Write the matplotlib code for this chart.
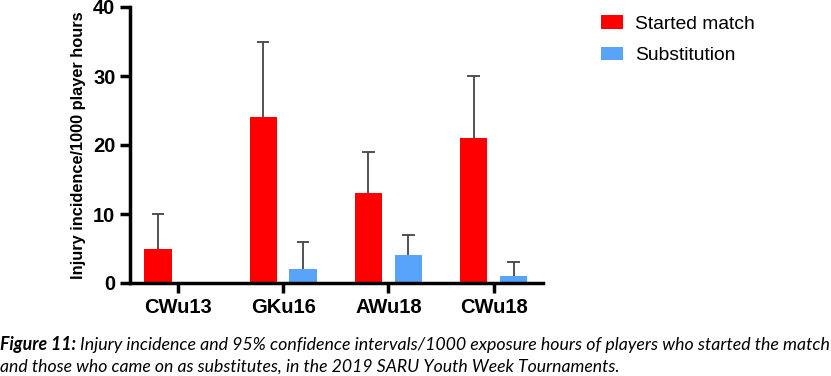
import numpy as np
import matplotlib
matplotlib.use("Agg")
import matplotlib.pyplot as plt
from matplotlib.patches import Patch

# data
groups = ["CWu13", "GKu16", "AWu18", "CWu18"]
started = [5, 24, 13, 21]
started_ci = [5, 11, 6, 9]      # upper error only
subs = [0, 2, 4, 1]
subs_ci = [0, 4, 3, 2]

red = "#ff0000"
blue = "#58a4fb"
err_col = "#444444"

W, H = 831, 376
fig = plt.figure(figsize=(W / 100, H / 100), dpi=100)
# axes in pixel coords: left 130, right 543, y0 at 283, y40 at 7
ax = fig.add_axes([130 / W, 1 - 283 / H, (543 - 130) / W, (283 - 7) / H])

x = np.arange(len(groups))
off = 0.19
bw = 0.26
cap = 0.06
ax.bar(x - off, started, bw, color=red, zorder=2)
ax.bar(x + off, subs, bw, color=blue, zorder=2)

# upper-only error bars (stem + top cap)
for xs, vals, errs in [(x - off, started, started_ci), (x + off, subs, subs_ci)]:
    for xi, v, e in zip(xs, vals, errs):
        if e > 0:
            ax.vlines(xi, v, v + e, color=err_col, lw=1.3, zorder=1)
            ax.hlines(v + e, xi - cap, xi + cap, color=err_col, lw=1.3, zorder=1)

ax.set_xlim(-0.456, 3.47)
ax.set_ylim(0, 40)
ax.set_yticks([0, 10, 20, 30, 40])
ax.set_xticks(x)
ax.set_xticklabels(groups)
for s in ["top", "right"]:
    ax.spines[s].set_visible(False)
for s in ["left", "bottom"]:
    ax.spines[s].set_linewidth(2.5)
ax.tick_params(axis="both", width=2.5, length=7, direction="out")
for lab in ax.get_xticklabels():
    lab.set_fontfamily("Liberation Sans")
    lab.set_fontweight("bold")
    lab.set_fontsize(14.5)
for lab in ax.get_yticklabels():
    lab.set_fontfamily("Liberation Sans")
    lab.set_fontweight("bold")
    lab.set_fontsize(14.5)
ax.set_ylabel("Injury incidence/1000 player hours", fontfamily="Liberation Sans",
              fontweight="bold", fontsize=11.8, labelpad=5)

handles = [Patch(facecolor=red, label="Started match"),
           Patch(facecolor=blue, label="Substitution")]
fig.legend(handles=handles, loc="upper left", bbox_to_anchor=(601 / W, 1 - 15 / H),
           frameon=False, prop={"family": "Liberation Sans", "size": 13.9},
           borderpad=0, borderaxespad=0,
           handlelength=1.14, handleheight=0.72, handletextpad=0.62, labelspacing=0.72)

# caption: bold italic "Figure 11:" then italic text
renderer = fig.canvas.get_renderer()
t1 = fig.text(0.0, 1 - 350 / H, "Figure 11:", fontfamily="Lato", style="italic",
              fontweight="bold", fontsize=12.8, va="baseline", ha="left")
bb = t1.get_window_extent(renderer)
fig.text(bb.x1 / W + 4 / W, 1 - 350 / H,
         "Injury incidence and 95% confidence intervals/1000 exposure hours of players who started the match",
         fontfamily="Lato", style="italic", fontsize=12.8, va="baseline", ha="left")
fig.text(0.0, 1 - 372 / H,
         "and those who came on as substitutes, in the 2019 SARU Youth Week Tournaments.",
         fontfamily="Lato", style="italic", fontsize=12.7, va="baseline", ha="left")

fig.savefig("out.png", dpi=100)
